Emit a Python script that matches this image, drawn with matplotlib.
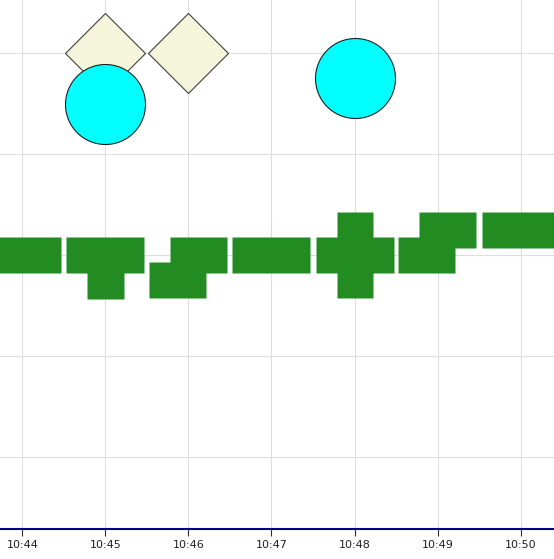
import matplotlib
matplotlib.use("Agg")
import matplotlib.pyplot as plt
import numpy as np

# time labels on the x axis
tick_labels = ["10:44", "10:45", "10:46", "10:47", "10:48", "10:49", "10:50"]

# green boxes, wide ones
wide_t = ["10:44:00", "10:45:00", "10:47:00", "10:48:00", "10:50:00"]
wide_v = [3.0, 3.0, 3.0, 3.0, 3.25]
# green boxes, medium ones
mid_t = ["10:45:52", "10:46:07", "10:48:52", "10:49:07"]
mid_v = [2.75, 3.0, 3.0, 3.25]
# green boxes, tall / small
tall_t = ["10:48:00"]
tall_v = [3.0]
small_t = ["10:45:00"]
small_v = [2.75]
# beige diamonds
diam_t = ["10:45:00", "10:46:00"]
diam_v = [5.0, 5.0]
# cyan circles
circ_t = ["10:45:00", "10:48:00"]
circ_v = [4.5, 4.75]


def to_min(s):
    p = [int(x) for x in s.split(":")]
    sec = p[2] if len(p) > 2 else 0
    return (p[0] - 10) * 60 + p[1] + sec / 60.0


def box(w, h):
    return [(-w / 2, -h / 2), (w / 2, -h / 2), (w / 2, h / 2), (-w / 2, h / 2), (-w / 2, -h / 2)]


px = 72.0 / 100  # points per pixel

fig = plt.figure(figsize=(5.54, 5.59), dpi=100)
ax = fig.add_axes([0, 30 / 559, 1, 529 / 559])

green = "#228B22"
ax.plot([to_min(t) for t in small_t], small_v, ls="none", marker=box(37, 37),
        ms=37 * px, mfc=green, mec="none", zorder=3)
ax.plot([to_min(t) for t in tall_t], tall_v, ls="none", marker=box(37, 86),
        ms=86 * px, mfc=green, mec="none", zorder=3)
ax.plot([to_min(t) for t in mid_t], mid_v, ls="none", marker=box(57, 36.5),
        ms=57 * px, mfc=green, mec="none", zorder=3)
ax.plot([to_min(t) for t in wide_t], wide_v, ls="none", marker=box(78, 36),
        ms=78 * px, mfc=green, mec="none", zorder=3)

ax.plot([to_min(t) for t in diam_t], diam_v, ls="none",
        marker=[(0, -1), (1, 0), (0, 1), (-1, 0), (0, -1)],
        ms=80 * px, mfc="#F5F5DC", mec="#404040", mew=0.8, zorder=4)
ax.plot([to_min(t) for t in circ_t], circ_v, ls="none", marker="o",
        ms=80 * px, mfc="#00FFFF", mec="#202020", mew=0.8, zorder=5)

x0 = to_min("10:44")
ppm = 83.05
ax.set_xlim(x0 - 22.3 / ppm, x0 + (554 - 22.3) / ppm)
ppv = 101.0
ax.set_ylim(3.0 - (529 - 255) / ppv, 3.0 + 255 / ppv)

ax.set_xticks([to_min(t) for t in tick_labels])
ax.set_xticklabels(tick_labels, fontsize=8, color="#202020")
ax.set_yticks([1, 2, 3, 4, 5])
ax.tick_params(axis="y", left=False, labelleft=False)
ax.tick_params(axis="x", direction="out", length=5, width=0.8, color="#303030", pad=3)
ax.grid(True, color="#DDDDDD", lw=0.8)
ax.set_axisbelow(True)
for s in ["top", "left", "right"]:
    ax.spines[s].set_visible(False)
ax.spines["bottom"].set_color("#000080")
ax.spines["bottom"].set_linewidth(1.5)

fig.savefig("out.png", dpi=100)
